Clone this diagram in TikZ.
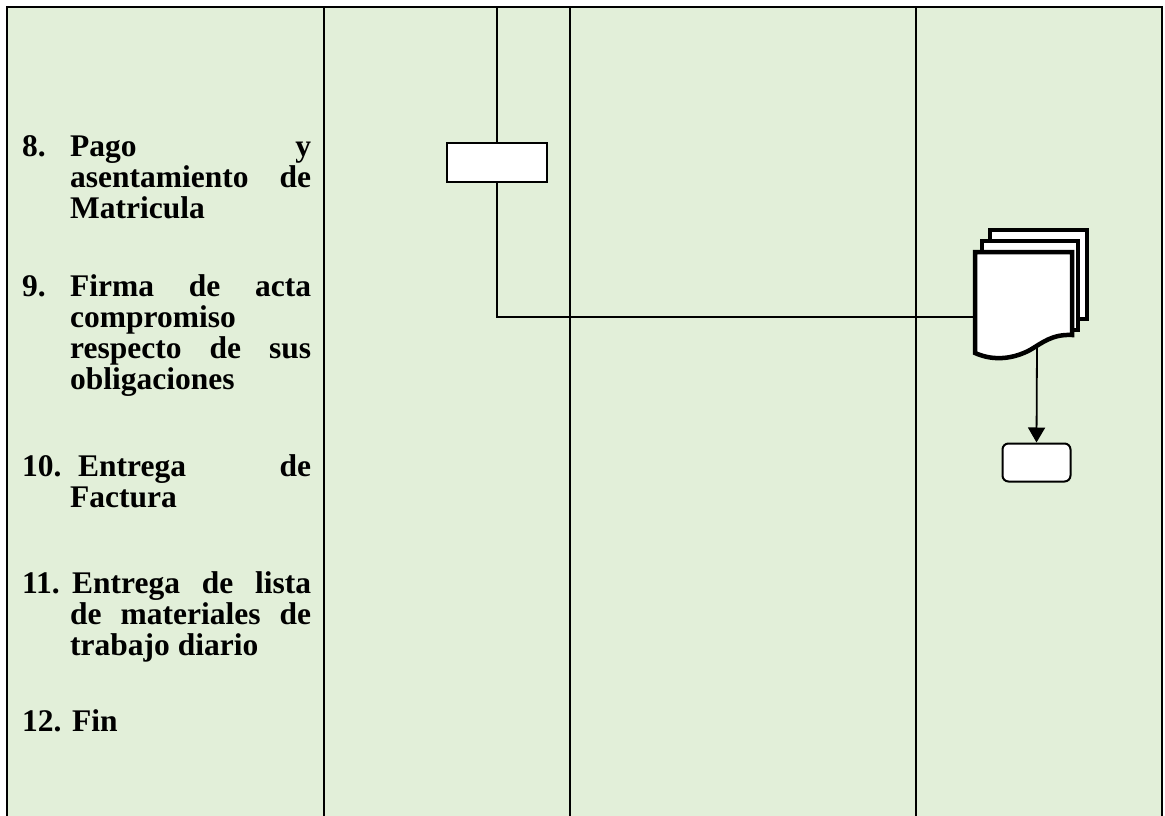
\documentclass[tikz,border=0pt]{standalone}
\usepackage{fontspec}
\setmainfont{Liberation Serif}
\usetikzlibrary{arrows.meta}
\definecolor{lanegreen}{HTML}{E2EFD9}
\newcommand{\jline}[2][241pt]{\makebox[#1][s]{#2}}
\begin{document}
\begin{tikzpicture}[x=1pt,y=-1pt,
  txt/.style={anchor=base west, inner sep=0pt, font=\fontsize{31.5}{31}\selectfont\bfseries},
  frame/.style={line width=2.6pt},
  lane/.style={line width=2pt},
  box/.style={draw, line width=2pt, fill=white, inner sep=0pt},
  docline/.style={line width=4.5pt, fill=white, line join=miter},
  flow/.style={line width=1.8pt}]
\useasboundingbox (0,0) rectangle (1165,816);
\fill[white] (0,0) rectangle (1165,816);
\fill[lanegreen] (7,7) rectangle (1162,816);
% lanes
\draw[lane] (324,7) -- (324,816);
\draw[lane] (570,7) -- (570,816);
\draw[lane] (916,7) -- (916,816);
\draw[frame] (7,816) -- (7,7) -- (1162,7) -- (1162,816);
% text
\node[txt] (n8) at (22,156) {8.};
\node[txt] (t8a) at (70,156) {\jline{Pago y}};
\node[txt] (t8b) at (70,187) {\jline{asentamiento de}};
\node[txt] (t8c) at (70,218) {Matricula};
\node[txt] (n9) at (22,296) {9.};
\node[txt] (t9a) at (70,296) {\jline{Firma de acta}};
\node[txt] (t9b) at (70,327) {compromiso};
\node[txt] (t9c) at (70,358) {\jline{respecto de sus}};
\node[txt] (t9d) at (70,389) {obligaciones};
\node[txt] (n10) at (22,476) {10.};
\node[txt] (t10a) at (78,476) {\jline[233pt]{Entrega de}};
\node[txt] (t10b) at (70,507) {Factura};
\node[txt] (n11) at (22,593) {11.};
\node[txt] (t11a) at (72,593) {\jline[239pt]{Entrega de lista}};
\node[txt] (t11b) at (70,624) {\jline{de materiales de}};
\node[txt] (t11c) at (70,655) {trabajo diario};
\node[txt] (n12) at (22,731) {12.};
\node[txt] (t12) at (72,731) {Fin};
% process box
\coordinate (start) at (497,7);
\node[box, minimum width=100pt, minimum height=39pt] (proc) at (497,162.5) {};
% multi document
\draw[docline] (990,319) -- (990,230) -- (1087,230) -- (1087,319) -- cycle;
\draw[docline] (982,330) -- (982,241) -- (1078,241) -- (1078,330) -- cycle;
\draw[docline] (975,353) -- (975,252) -- (1072,252) -- (1072,335)
  .. controls (1052,334) and (1042,343) .. (1030,350)
  .. controls (1015,358) and (995,362) .. (975,353) -- cycle;
\coordinate (docw) at (975,317);
\coordinate (docb) at (1037,347);
% terminal
\node[box, rounded corners=6pt, minimum width=68pt, minimum height=38pt] (term) at (1036.5,462.5) {};
% connectors
\draw[flow] (start) -- (proc.north);
\draw[flow] (proc.south) |- (docw);
\draw[flow, -{Triangle[length=15pt,width=17pt]}] (docb) -- (term.north);
\end{tikzpicture}
\end{document}
